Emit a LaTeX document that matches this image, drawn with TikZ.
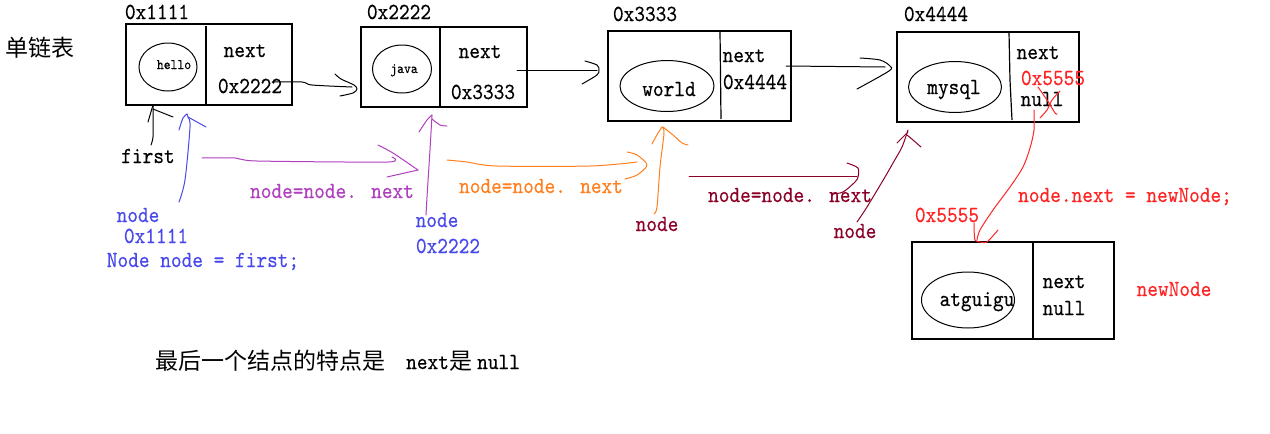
\documentclass[tikz,border=0pt]{standalone}
\usepackage{fontspec}
\newfontfamily\cjk{Noto Sans CJK SC}
\newfontfamily\mono{lmmono10-regular.otf}[FakeBold=0.4]
\usetikzlibrary{shapes.geometric}
\definecolor{cblue}{RGB}{72,72,235}
\definecolor{cpurple}{RGB}{176,64,192}
\definecolor{corange}{RGB}{255,128,32}
\definecolor{cmaroon}{RGB}{140,0,40}
\definecolor{cred}{RGB}{255,36,36}
\tikzset{
  lbl/.style={font=\mono\fontsize{23}{26}\selectfont, xscale=0.885, inner sep=0pt, anchor=base},
  smalllbl/.style={font=\mono\fontsize{14.5}{17}\selectfont, xscale=0.9, inner sep=0pt, anchor=base},
  cjklbl/.style={font=\cjk\fontsize{23}{27}\selectfont, inner sep=0pt, anchor=base west},
  box/.style={draw, line width=1.2pt, rectangle, inner sep=0pt, outer sep=0pt, anchor=north west},
  oval/.style={draw, line width=1pt, ellipse, inner sep=0pt},
  hand/.style={line width=1pt, line cap=round, line join=round},
}
\begin{document}
\begin{tikzpicture}[x=1pt,y=-1pt]
\useasboundingbox[fill=white] (0,0) rectangle (1270,434);

% ---------- boxes ----------
\node[box, minimum width=166, minimum height=81] (b1) at (126,24) {};
\node[box, minimum width=166, minimum height=80] (b2) at (361,27) {};
\node[box, minimum width=183, minimum height=90] (b3) at (608,31) {};
\node[box, minimum width=182, minimum height=90] (b4) at (897,32) {};
\node[box, minimum width=202, minimum height=97] (b5) at (912,242) {};
\draw[line width=1.2pt] (206,26) -- (206,105);
\draw[line width=1.2pt] (440,28) -- (440,107);
\draw[line width=1.2pt] (720,31) -- (721,119);
\draw[line width=1.2pt] (1009,32) -- (1010,80) -- (1012,120);
\draw[line width=1.2pt] (1033,242) -- (1033,339);

% ---------- ellipses ----------
\node[oval, minimum width=58, minimum height=48] (e1) at (168,67) {};
\node[oval, minimum width=59, minimum height=48] (e2) at (402,69) {};
\node[oval, minimum width=94, minimum height=51] (e3) at (667,86) {};
\node[oval, minimum width=93, minimum height=51] (e4) at (955,87) {};
\node[oval, minimum width=93, minimum height=56] (e5) at (968,300) {};

% ---------- texts in boxes ----------
\node[smalllbl] (v1) at (174,69) {hello};
\node[smalllbl] (v2) at (404,73) {java};
\node[lbl] (v3) at (669,96) {world};
\node[lbl] (v4) at (954,94) {mysql};
\node[lbl] (v5) at (977,306) {atguigu};

\node[lbl] (n1) at (245,57) {next};
\node[lbl] (p1) at (250,93) {0x2222};
\node[lbl] (n2) at (480,58) {next};
\node[lbl] (p2) at (483,99) {0x3333};
\node[lbl] (n3) at (744,62) {next};
\node[lbl] (p3) at (755,89) {0x4444};
\node[lbl] (n4) at (1038,59) {next};
\node[lbl, text=cred] (p4r) at (1053,85) {0x5555};
\node[lbl] (p4) at (1042,106) {null};
\node[lbl] (n5) at (1064,288) {next};
\node[lbl] (p5) at (1064,315) {null};

% ---------- addresses ----------
\node[lbl] (a1) at (157,19) {0x1111};
\node[lbl] (a2) at (399,19) {0x2222};
\node[lbl] (a3) at (645,21) {0x3333};
\node[lbl] (a4) at (936,21) {0x4444};
\node[lbl, text=cred] (a5) at (947,222) {0x5555};

% ---------- other texts ----------
\node[cjklbl] (title) at (5,56) {单链表};
\node[lbl] (first) at (148,163) {first};
\node[lbl, text=cblue] (bn1) at (138,222) {node};
\node[lbl, text=cblue] (ba1) at (156,243) {0x1111};
\node[lbl, text=cblue] (bc1) at (203,267) {Node node = first;};
\node[lbl, text=cpurple] (pn) at (332,198) {node=node. next};
\node[lbl, text=cblue] (bn2) at (437,227) {node};
\node[lbl, text=cblue] (ba2) at (448,253) {0x2222};
\node[lbl, text=corange] (on) at (541,193) {node=node. next};
\node[lbl, text=cmaroon] (mn1) at (657,231) {node};
\node[lbl, text=cmaroon] (mnn) at (790,202) {node=node. next};
\node[lbl, text=cmaroon] (mn2) at (855,238) {node};
\node[lbl, text=cred] (rc) at (1125,202) {node.next = newNode;};
\node[lbl, text=cred] (rn) at (1174,296) {newNode};

\node[cjklbl] (s1) at (155,369) {最后一个结点的特点是};
\node[lbl, anchor=base west] (s2) at (406,369) {next};
\node[cjklbl] (s3) at (449,369) {是};
\node[lbl, anchor=base west] (s4) at (477,369) {null};

% ---------- black arrows between boxes ----------
\coordinate (tA) at (357,89);
\draw[hand] plot[smooth, tension=0.5] coordinates {(272,82) (302,82) (312,85) (352,87)};
\draw[hand] plot[smooth, tension=0.5] coordinates {(335,74) (341,79) (354,85) (tA) (353,93) (340,96)};

\coordinate (tB) at (599,70);
\draw[hand] (517,70) -- (597,70);
\draw[hand] plot[smooth, tension=0.5] coordinates {(585,61) (597,65) (tB) (597,75) (582,84)};

\coordinate (tC) at (890,66);
\draw[hand] (786,66) -- (885,67);
\draw[hand] plot[smooth, tension=0.5] coordinates {(860,58) (880,60) (tC) (889,71) (857,89)};

% ---------- first ----------
\coordinate (tF) at (153,105);
\draw[hand] plot[smooth, tension=0.5] coordinates {(151,145) (153,137) (153,118) (tF)};
\draw[hand] (148,122) -- (tF);
\draw[hand] (153,109) -- (173,117);

% ---------- blue ----------
\coordinate (tBl) at (187,114);
\draw[hand, cblue] plot[smooth, tension=0.5] coordinates {(179,202) (185,180) (190,127) (188,117) (tBl)};
\draw[hand, cblue] plot[smooth, tension=0.5] coordinates {(179,130) (183,118) (tBl)};
\draw[hand, cblue] plot[smooth, tension=0.5] coordinates {(188,117) (197,122) (206,127)};

% ---------- purple ----------
\coordinate (tP) at (418,170);
\draw[hand, cpurple] plot[smooth, tension=0.4] coordinates {(202,158) (235,158) (257,161) (388,162) (392,157)};
\draw[hand, cpurple] plot[smooth, tension=0.3] coordinates {(378,145) (393,153) (tP)};
\draw[hand, cpurple] (tP) -- (387,177);

\coordinate (tP2) at (432,115);
\draw[hand, cpurple] plot[smooth, tension=0.5] coordinates {(426,215) (427,197) (430,150) (tP2)};
\draw[hand, cpurple] plot[smooth, tension=0.5] coordinates {(419,132) (427,120) (tP2)};
\draw[hand, cpurple] plot[smooth, tension=0.5] coordinates {(432,119) (440,125) (447,126)};

% ---------- orange ----------
\coordinate (tO) at (647,165);
\draw[hand, corange] plot[smooth, tension=0.5] coordinates {(447,160) (467,162) (497,166) (590,166) (637,162)};
\draw[hand, corange] plot[smooth, tension=0.5] coordinates {(627,152) (637,155) (tO) (637,175) (625,179)};

\coordinate (tO2) at (662,127);
\draw[hand, corange] plot[smooth, tension=0.5] coordinates {(654,214) (657,207) (660,167) (664,133) (tO2)};
\draw[hand, corange] plot[smooth, tension=0.5] coordinates {(652,144) (658,133) (tO2)};
\draw[hand, corange] plot[smooth, tension=0.5] coordinates {(663,127) (673,135) (682,143) (688,145)};

% ---------- maroon ----------
\coordinate (tM) at (858,172);
\draw[hand, cmaroon] (689,176) -- (857,176);
\draw[hand, cmaroon] plot[smooth, tension=0.5] coordinates {(847,163) (858,168) (858,177) (855,182) (843,192) (832,194)};

\coordinate (tM2) at (908,130);
\draw[hand, cmaroon] plot[smooth, tension=0.5] coordinates {(857,222) (867,207) (885,177) (893,163) (902,147) (tM2)};
\draw[hand, cmaroon] (897,143) -- (908,132);
\draw[hand, cmaroon] plot[smooth, tension=0.5] coordinates {(907,135) (913,140) (921,147)};

% ---------- red ----------
\draw[hand, cred] plot[smooth, tension=0.5] coordinates {(1038,87) (1049,103) (1055,113) (1057,114)};
\draw[hand, cred] plot[smooth, tension=0.5] coordinates {(1040,118) (1047,110) (1052,100) (1060,91)};

\coordinate (tR) at (981,242);
\draw[hand, cred] plot[smooth, tension=0.5] coordinates {(1034,110) (1034,130) (1030,148) (1023,167) (1010,187) (993,210) (980,230) (977,240)};
\draw[hand, cred] plot[smooth, tension=0.5] coordinates {(974,223) (975,240) (tR) (987,242) (998,230)};
\end{tikzpicture}
\end{document}
